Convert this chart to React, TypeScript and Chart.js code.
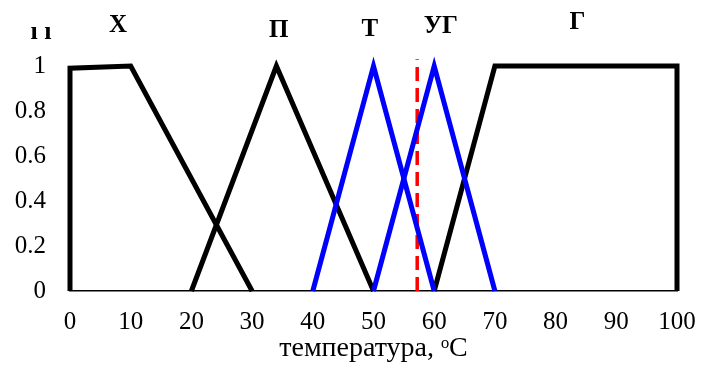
import { useEffect, useRef } from 'react';
import { Chart, registerables } from 'chart.js';

Chart.register(...registerables);

// temperature axis ticks
const xTickValues = [0, 10, 20, 30, 40, 50, 60, 70, 80, 90, 100];
const yTickValues = [0, 0.2, 0.4, 0.6, 0.8, 1];

// membership functions (x = temperature, y = membership)
const coldX = [0, 0, 10, 30];
const coldY = [0, 0.99, 1, 0];
const coolX = [20, 34, 50];
const coolY = [0, 1, 0];
const warmX = [40, 50, 60];
const warmY = [0, 1, 0];
const moderateHotX = [50, 60, 70];
const moderateHotY = [0, 1, 0];
const hotX = [60, 70, 100, 100];
const hotY = [0, 1, 1, 0];
const currentX = [57.2, 57.2];
const currentY = [0, 1.03];

// term names and their anchor (x, y) in data units
const termNames = ['Х', 'П', 'Т', 'УГ', 'Г'];
const termX = [7.9, 34.4, 49.4, 61.1, 83.6];
const termY = [1.182, 1.156, 1.162, 1.176, 1.193];

const axisTitle = 'температура, ᵒC';
const muLabel = 'ı ı';

const FONT = '"Liberation Serif", "Times New Roman", serif';

function pts(xs: number[], ys: number[]) {
  return xs.map((x, i) => ({ x, y: ys[i] }));
}

export default function App() {
  const ref = useRef<HTMLCanvasElement>(null);

  useEffect(() => {
    if (!ref.current) return;
    const labelsPlugin = {
      id: 'termLabels',
      afterDraw(chart: any) {
        const { ctx, scales } = chart;
        const x = scales.x;
        const y = scales.y;
        ctx.save();
        ctx.fillStyle = '#000';
        ctx.textAlign = 'center';
        ctx.textBaseline = 'middle';
        ctx.font = `bold 25px ${FONT}`;
        termNames.forEach((n, i) => {
          ctx.fillText(n, x.getPixelForValue(termX[i]), y.getPixelForValue(termY[i]));
        });
        ctx.font = `bold 26px ${FONT}`;
        ctx.fillText(muLabel, 41, y.getPixelForValue(1.15));
        ctx.restore();
      },
    };

    const base = {
      showLine: true,
      pointRadius: 0,
      pointHoverRadius: 0,
      borderWidth: 5,
      borderJoinStyle: 'miter' as const,
      borderCapStyle: 'butt' as const,
      tension: 0,
      clip: false as any,
      fill: false,
    };

    const chart = new Chart(ref.current, {
      type: 'scatter',
      data: {
        datasets: [
          { ...base, data: pts(warmX, warmY), borderColor: '#0000ff' },
          { ...base, data: pts(moderateHotX, moderateHotY), borderColor: '#0000ff' },
          { ...base, data: pts(coldX, coldY), borderColor: '#000' },
          { ...base, data: pts(coolX, coolY), borderColor: '#000' },
          { ...base, data: pts(hotX, hotY), borderColor: '#000' },
          {
            ...base,
            data: pts(currentX, currentY),
            borderColor: '#ff0000',
            borderWidth: 3.5,
            borderDash: [14, 7],
          },
        ],
      },
      options: {
        animation: false,
        responsive: false,
        maintainAspectRatio: false,
        events: [],
        layout: { padding: { top: 66, right: 30, left: 0, bottom: 0 } },
        plugins: {
          legend: { display: false },
          tooltip: { enabled: false },
        },
        scales: {
          x: {
            type: 'linear',
            min: 0,
            max: 100,
            afterBuildTicks: (s: any) => {
              s.ticks = xTickValues.map((v) => ({ value: v }));
            },
            ticks: {
              color: '#000',
              font: { family: FONT, size: 25 },
              padding: 16,
              maxRotation: 0,
              autoSkip: false,
            },
            grid: { display: false, drawTicks: false },
            border: { display: true, color: '#000', width: 1.5 },
            title: {
              display: true,
              text: axisTitle,
              color: '#000',
              font: { family: FONT, size: 28 },
              padding: { top: 0, bottom: 0 },
            },
            afterFit: (s: any) => {
              s.height = 74;
              s.paddingLeft = 0;
              s.paddingRight = 0;
            },
          },
          y: {
            type: 'linear',
            min: 0,
            max: 1,
            afterBuildTicks: (s: any) => {
              s.ticks = yTickValues.map((v) => ({ value: v }));
            },
            ticks: {
              color: '#000',
              font: { family: FONT, size: 25 },
              padding: 24,
              callback: (v: any) => String(+Number(v).toFixed(1)),
            },
            grid: { display: false, drawTicks: false },
            border: { display: false },
            afterFit: (s: any) => {
              s.width = 70;
              s.paddingTop = 0;
              s.paddingBottom = 0;
            },
          },
        },
      },
      plugins: [labelsPlugin],
    });
    return () => chart.destroy();
  }, []);

  return (
    <div style={{ position: 'fixed', left: 0, top: 0, width: 707, height: 365, background: '#fff' }}>
      <canvas ref={ref} width={707} height={365} style={{ width: 707, height: 365, display: 'block' }} />
    </div>
  );
}
